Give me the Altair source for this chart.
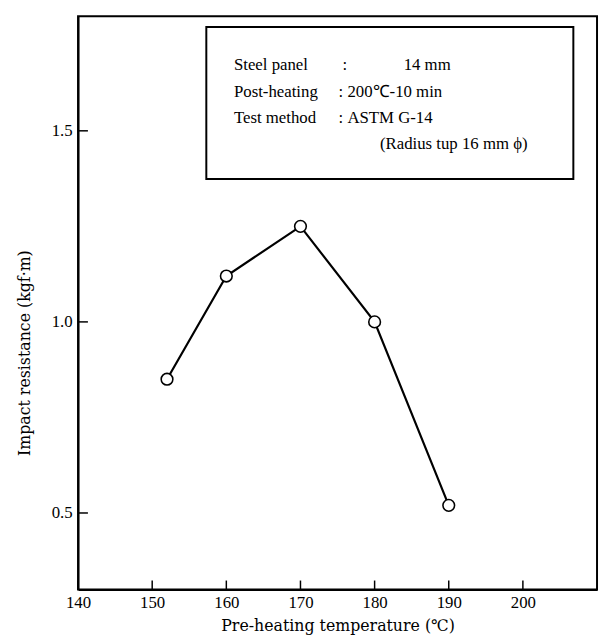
import altair as alt
import pandas as pd

# ---- data ----
temps = [152, 160, 170, 180, 190]
impact = [0.85, 1.12, 1.25, 1.00, 0.52]
x_ticks = [140, 150, 160, 170, 180, 190, 200]
y_ticks = [0.5, 1.0, 1.5]
box_labels = ["Steel panel", "Post-heating", "Test method", ""]
box_colons = [":", ":", ":", ""]
box_values = ["14 mm", "200℃-10 min", "ASTM G-14", "(Radius tup 16 mm ϕ)"]

x_title = "Pre-heating temperature (℃)"
y_title = "Impact resistance (kgf·m)"

W, H = 526, 581
SERIF = "Liberation Serif"

df = pd.DataFrame({"temp": temps, "impact": impact})
xs = alt.Scale(domain=[140, 210], nice=False, zero=False)
ys = alt.Scale(domain=[0.3, 1.8], nice=False, zero=False)

x_enc = alt.X("temp:Q", scale=xs,
              axis=alt.Axis(values=x_ticks, title=x_title, format="d",
                            ticks=False, labelFlush=False, labelPadding=5,
                            titleX=W / 2, titleY=37, titleBaseline="middle"))
y_enc = alt.Y("impact:Q", scale=ys,
              axis=alt.Axis(values=y_ticks, title=y_title, format=".1f",
                            ticks=False, labelPadding=6,
                            titleAngle=-90, titleX=-54, titleY=341,
                            titleAlign="center", titleBaseline="middle"))

line = alt.Chart(df).mark_line(color="black", strokeWidth=2.2).encode(x=x_enc, y=y_enc)
pts = alt.Chart(df).mark_point(shape="circle", size=140, filled=True, fill="white",
                               stroke="black", strokeWidth=1.6, opacity=1).encode(
    x=alt.X("temp:Q", scale=xs), y=alt.Y("impact:Q", scale=ys))

xt = alt.Chart(pd.DataFrame({"t": x_ticks})).mark_rule(color="black", strokeWidth=1.5).encode(
    x=alt.X("t:Q", scale=xs), y=alt.value(H), y2=alt.value(H - 9))
yt = alt.Chart(pd.DataFrame({"t": y_ticks})).mark_rule(color="black", strokeWidth=1.5).encode(
    y=alt.Y("t:Q", scale=ys), x=alt.value(0), x2=alt.value(10))

one = pd.DataFrame({"a": [0]})
box = alt.Chart(one).mark_rect(fill="white", stroke="black", strokeWidth=2).encode(
    x=alt.value(130), x2=alt.value(502), y=alt.value(11), y2=alt.value(165))

# layout (pixels in plot coordinates) for the annotation box lines
row_y = [50, 77, 103, 130]
label_x = 158
colon_x = [268, 264, 264, 264]
value_x = [330, 273, 273, 306]

texts = []
for i in range(4):
    for txt, xp in ((box_labels[i], label_x), (box_colons[i], colon_x[i]), (box_values[i], value_x[i])):
        if txt:
            texts.append(alt.Chart(one).mark_text(text=txt, align="left", baseline="middle",
                                                  font=SERIF, fontSize=17, color="black").encode(
                x=alt.value(xp), y=alt.value(row_y[i])))

chart = alt.layer(line, pts, xt, yt, box, *texts).properties(
    width=W, height=H,
    background="white",
    autosize=alt.AutoSizeParams(type="none"),
    padding={"left": 71, "top": 4, "right": 2, "bottom": 48},
).configure_view(stroke="black", strokeWidth=2).configure_axis(
    domainColor="black", domainWidth=2, grid=False,
    labelFont=SERIF, labelFontSize=17, labelColor="black",
    titleFont="DejaVu Serif", titleFontSize=16, titleFontWeight="normal", titleColor="black",
)

chart.save("out.html", embed_options={"renderer": "svg", "actions": False})
